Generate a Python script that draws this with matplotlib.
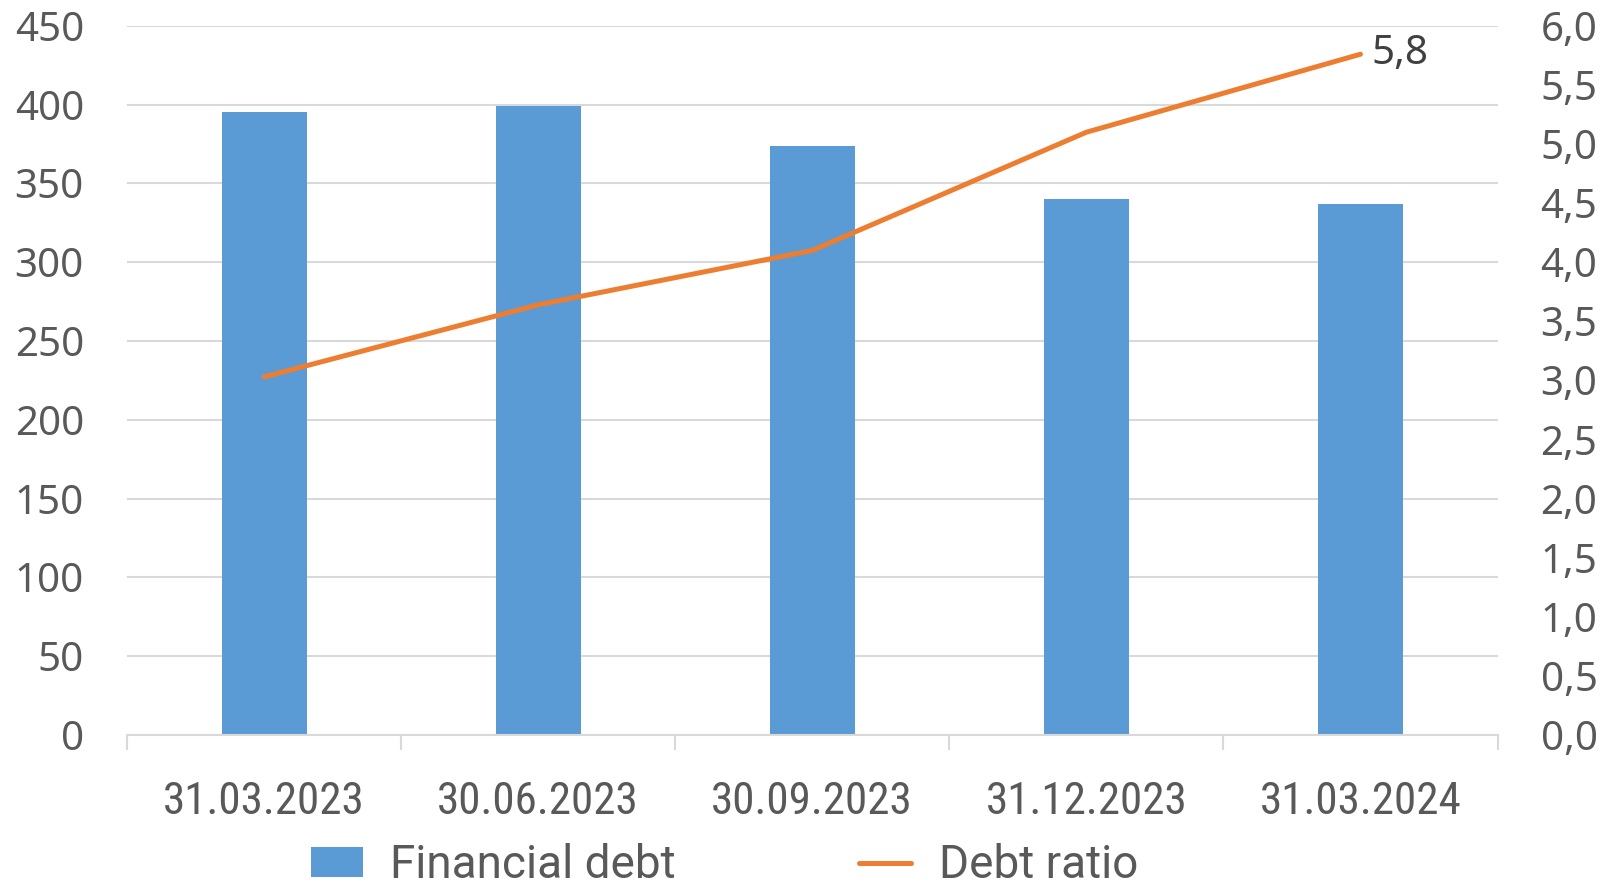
import matplotlib
matplotlib.use("Agg")
import matplotlib.pyplot as plt
import numpy as np
from matplotlib.ticker import FixedLocator

# data
dates = ["31.03.2023", "30.06.2023", "30.09.2023", "31.12.2023", "31.03.2024"]
financial_debt = [395.5, 399.4, 373.5, 340.4, 337.2]
debt_ratio = [3.03, 3.64, 4.10, 5.10, 5.76]
left_ticks = [0, 50, 100, 150, 200, 250, 300, 350, 400, 450]
right_ticks = [0.0, 0.5, 1.0, 1.5, 2.0, 2.5, 3.0, 3.5, 4.0, 4.5, 5.0, 5.5, 6.0]

BLUE = "#5B9BD5"
ORANGE = "#ED7D31"
GRID = "#D9D9D9"
TEXT = "#595959"
NUM_FONT = ["Noto Sans", "DejaVu Sans"]
CAT_FONT = ["Roboto Condensed", "DejaVu Sans"]
LEG_FONT = ["Roboto", "DejaVu Sans"]

fig = plt.figure(figsize=(16.03, 8.91), dpi=100)
ax = fig.add_axes([0.0792, 0.175, 0.855, 0.796])
ax2 = ax.twinx()

x = np.arange(len(dates))
ax.bar(x, financial_debt, width=0.31, color=BLUE, zorder=2, label="Financial debt")
ax2.plot(x, debt_ratio, color=ORANGE, lw=3.6, solid_capstyle="round", zorder=3,
         label="Debt ratio")
ax2.text(x[-1] + 0.04, debt_ratio[-1], f"{debt_ratio[-1]:.1f}".replace(".", ","),
         ha="left", va="center", fontsize=29, color="#404040", family=NUM_FONT)

ax.set_xlim(-0.5, len(dates) - 0.5)
ax.set_ylim(0, 450)
ax2.set_ylim(0, 6)

ax.set_yticks(left_ticks)
ax.set_yticklabels([str(v) for v in left_ticks], family=NUM_FONT)
ax2.set_yticks(right_ticks)
ax2.set_yticklabels([f"{v:.1f}".replace(".", ",") for v in right_ticks], family=NUM_FONT)
ax.yaxis.grid(True, color=GRID, lw=1.5, zorder=0)
ax.set_axisbelow(True)

ax.set_xticks(x)
ax.set_xticklabels(dates, family=CAT_FONT, fontstretch="condensed")
ax.xaxis.set_minor_locator(FixedLocator(np.arange(-0.5, len(dates), 1.0)))
ax.tick_params(axis="x", which="major", length=0, pad=33, labelsize=32.5, labelcolor=TEXT)
ax.tick_params(axis="x", which="minor", length=10.5, width=1.5, color=GRID)
ax.tick_params(axis="y", length=0, pad=31, labelsize=29, labelcolor=TEXT)
ax2.tick_params(axis="y", length=0, pad=31, labelsize=29, labelcolor=TEXT)

for a in (ax, ax2):
    for side in ("top", "left", "right", "bottom"):
        a.spines[side].set_visible(False)
ax.spines["bottom"].set_visible(True)
ax.spines["bottom"].set_color(GRID)
ax.spines["bottom"].set_linewidth(1.5)

h1, l1 = ax.get_legend_handles_labels()
h2, l2 = ax2.get_legend_handles_labels()
fig.legend(h1 + h2, l1 + l2, loc="center", bbox_to_anchor=(0.452, 0.029), ncol=2,
           frameon=False, prop={"family": LEG_FONT, "size": 33},
           labelcolor=TEXT, handlelength=1.13, handleheight=0.6,
           handletextpad=0.6, columnspacing=4.0, borderpad=0.1)

fig.savefig("out.png", dpi=100)
